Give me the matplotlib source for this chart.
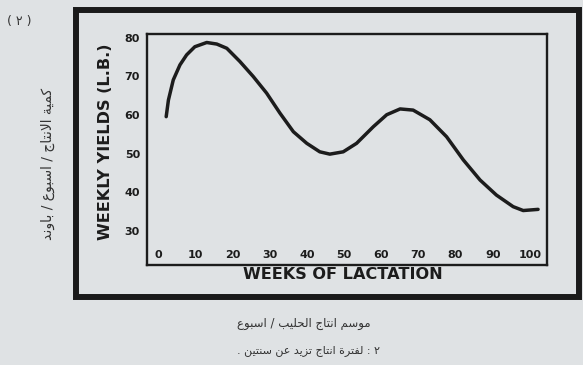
import matplotlib
matplotlib.use('Agg')
import matplotlib.pyplot as plt
from matplotlib.patches import Rectangle

# ---- data ----
weeks = [2.2, 2.8, 4.1, 5.9, 7.7, 9.9, 13.1, 15.8, 18.5, 22.0, 25.6, 29.2, 32.8,
         36.4, 40.0, 43.5, 46.2, 49.8, 53.4, 57.9, 61.5, 65.1, 68.6, 73.1, 77.6,
         82.1, 86.6, 91.0, 95.5, 98.2, 102.2]
yields = [59.6, 63.9, 69.1, 73.0, 75.6, 77.7, 78.8, 78.4, 77.3, 73.9, 70.0, 65.7,
          60.5, 55.7, 52.7, 50.5, 49.9, 50.5, 52.7, 57.0, 60.1, 61.6, 61.3, 58.8,
          54.4, 48.4, 43.2, 39.3, 36.3, 35.3, 35.6]
x_ticks = [0, 10, 20, 30, 40, 50, 60, 70, 80, 90, 100]
y_ticks = [30, 40, 50, 60, 70, 80]
x_label = "WEEKS OF LACTATION"
y_label = "WEEKLY YIELDS (L.B.)"
ar_fig_no = "( ٢ )"
ar_ylabel = "كمية الانتاج / اسبوع / باوند"
ar_caption1 = "موسم انتاج الحليب / اسبوع"
ar_caption2 = "٢ : لفترة انتاج تزيد عن سنتين ."

# ---- minimal Arabic shaping (presentation forms) + RTL ordering ----
FOUR = {'ئ': 0xFE89, 'ب': 0xFE8F, 'ت': 0xFE95, 'ث': 0xFE99, 'ج': 0xFE9D, 'ح': 0xFEA1,
        'خ': 0xFEA5, 'س': 0xFEB1, 'ش': 0xFEB5, 'ص': 0xFEB9, 'ض': 0xFEBD, 'ط': 0xFEC1,
        'ظ': 0xFEC5, 'ع': 0xFEC9, 'غ': 0xFECD, 'ف': 0xFED1, 'ق': 0xFED5, 'ك': 0xFED9,
        'ل': 0xFEDD, 'م': 0xFEE1, 'ن': 0xFEE5, 'ه': 0xFEE9, 'ي': 0xFEF1}
TWO = {'آ': 0xFE81, 'أ': 0xFE83, 'ؤ': 0xFE85, 'إ': 0xFE87, 'ا': 0xFE8D, 'ة': 0xFE93,
       'د': 0xFEA9, 'ذ': 0xFEAB, 'ر': 0xFEAD, 'ز': 0xFEAF, 'و': 0xFEED, 'ى': 0xFEEF}
LAM_ALEF = {'آ': 0xFEF5, 'أ': 0xFEF7, 'إ': 0xFEF9, 'ا': 0xFEFB}


def shape(s):
    units = []
    i = 0
    while i < len(s):
        c = s[i]
        if c == 'ل' and i + 1 < len(s) and s[i + 1] in LAM_ALEF:
            units.append(('LA', s[i + 1]))
            i += 2
        else:
            units.append((c, None))
            i += 1

    def jt(u):
        if u[0] == 'LA':
            return 'R'
        if u[0] in FOUR:
            return 'D'
        if u[0] in TWO:
            return 'R'
        return 'U'

    out = []
    for k, u in enumerate(units):
        t = jt(u)
        prev = units[k - 1] if k > 0 else None
        nxt = units[k + 1] if k + 1 < len(units) else None
        jp = t in 'DR' and prev is not None and jt(prev) == 'D'
        jn = t == 'D' and nxt is not None and jt(nxt) in 'DR'
        if u[0] == 'LA':
            out.append(chr(LAM_ALEF[u[1]] + (1 if jp else 0)))
        elif t == 'D':
            idx = 3 if (jp and jn) else 1 if jp else 2 if jn else 0
            out.append(chr(FOUR[u[0]] + idx))
        elif t == 'R':
            out.append(chr(TWO[u[0]] + (1 if jp else 0)))
        else:
            out.append(u[0])
    return ''.join(reversed(out))


W, H = 583, 365
bg = '#dfe2e4'
ink = '#1c1c1c'

plt.rcParams['font.family'] = ['DejaVu Sans']
fig = plt.figure(figsize=(W / 100, H / 100), dpi=100, facecolor=bg)

# outer thick frame
fig.patches.append(Rectangle((76 / W, 1 - 297 / H), (579 - 76) / W, (297 - 10) / H,
                             transform=fig.transFigure, fill=False, lw=4.3,
                             ec='#1a1a1a'))

ax = fig.add_axes([147 / W, 1 - 265 / H, 400 / W, 231 / H])
ax.set_facecolor(bg)
ax.plot(weeks, yields, color=ink, lw=2.5, solid_capstyle='round')
ax.set_xlim(-2.96, 104.6)
ax.set_ylim(21.2, 81.0)
ax.set_xticks(x_ticks, labels=[str(v) for v in x_ticks])
ax.set_yticks(y_ticks, labels=[str(v) for v in y_ticks])
ax.tick_params(axis='both', length=0, labelsize=8, labelcolor=ink)
ax.tick_params(axis='x', pad=-11)
ax.tick_params(axis='y', pad=5)
for lab in ax.get_xticklabels() + ax.get_yticklabels():
    lab.set_fontweight('bold')
for sp in ax.spines.values():
    sp.set_linewidth(1.7)
    sp.set_color(ink)

ax.set_xlabel(x_label, fontsize=11.6, fontweight='bold', color=ink)
ax.xaxis.set_label_coords(0.49, -0.039)
ax.xaxis.label.set_va('center')
ax.set_ylabel(y_label, fontsize=11.6, fontweight='bold', color=ink)
ax.yaxis.set_label_coords(-0.105, 0.535)
ax.yaxis.label.set_va('center')

# Arabic texts
fig.text(19 / W, 1 - 22 / H, ar_fig_no, fontsize=9, ha='center', va='center', color='#333333')
fig.text(48 / W, 1 - 164 / H, shape(ar_ylabel), fontsize=10, rotation=90,
         ha='center', va='center', color='#333333')
fig.text(371 / W, 1 - 323 / H, shape(ar_caption1), fontsize=8.5, ha='right',
         va='center', color='#333333')
fig.text(380 / W, 1 - 351 / H, shape(ar_caption2), fontsize=8, ha='right',
         va='center', color='#333333')

fig.savefig('out.png', dpi=100, facecolor=bg)
